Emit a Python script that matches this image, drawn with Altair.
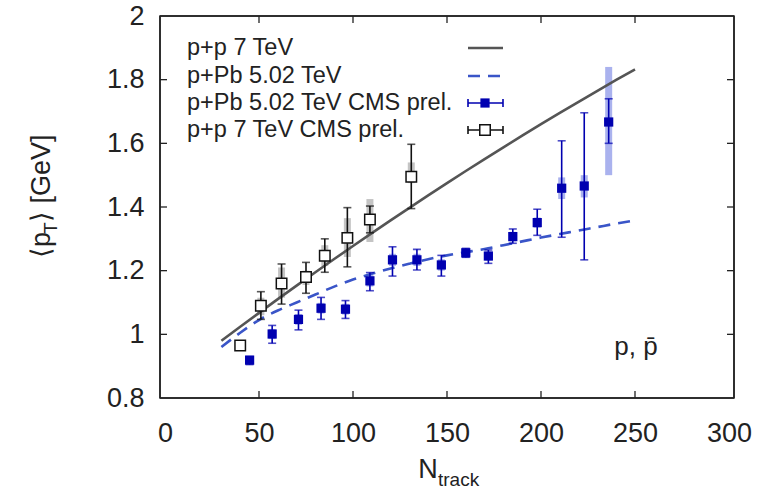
import altair as alt
import pandas as pd

# ---------------- data ----------------
# model curves
curve_n = [30, 40, 50, 60, 70, 80, 90, 100, 110, 120, 130, 140, 150, 160, 170, 180, 190, 200, 210, 220, 230, 240, 250]
pp7_curve = [0.980, 1.024, 1.0675, 1.1105, 1.153, 1.195, 1.2365, 1.2775, 1.318, 1.358, 1.3975, 1.4365, 1.475,
             1.513, 1.5505, 1.5875, 1.624, 1.660, 1.6955, 1.7305, 1.765, 1.799, 1.8325]
ppb_curve = [0.96, 1.005, 1.045, 1.075, 1.10, 1.125, 1.15, 1.172, 1.19, 1.207, 1.222, 1.236, 1.248, 1.258, 1.268,
             1.28, 1.292, 1.304, 1.315, 1.326, 1.337, 1.348, 1.358]

# p+p 7 TeV CMS prel.
pp_n = [40, 51, 62, 75, 85, 97, 109, 131]
pp_v = [0.965, 1.09, 1.16, 1.18, 1.247, 1.303, 1.361, 1.495]
pp_lo = [0.958, 1.047, 1.095, 1.129, 1.195, 1.212, 1.319, 1.395]
pp_hi = [0.972, 1.134, 1.221, 1.226, 1.30, 1.398, 1.403, 1.597]
pp_sys_lo = [0.96, 1.06, 1.115, 1.155, 1.215, 1.243, 1.29, 1.475]
pp_sys_hi = [0.97, 1.115, 1.21, 1.20, 1.28, 1.365, 1.425, 1.54]

# p+Pb 5.02 TeV CMS prel.
pb_n = [45, 57, 71, 83, 96, 109, 121, 134, 147, 160, 172, 185, 198, 211, 223, 236]
pb_v = [0.919, 1.001, 1.047, 1.082, 1.079, 1.168, 1.234, 1.234, 1.218, 1.256, 1.246, 1.307, 1.351, 1.459, 1.466, 1.667]
pb_lo = [0.905, 0.972, 1.014, 1.047, 1.05, 1.137, 1.183, 1.202, 1.183, 1.242, 1.223, 1.286, 1.311, 1.305, 1.234, 1.60]
pb_hi = [0.93, 1.028, 1.076, 1.116, 1.106, 1.194, 1.275, 1.267, 1.248, 1.27, 1.265, 1.331, 1.393, 1.608, 1.696, 1.74]
pb_sys_lo = [0.91, 0.985, 1.03, 1.065, 1.062, 1.15, 1.215, 1.215, 1.2, 1.245, 1.232, 1.292, 1.335, 1.425, 1.43, 1.50]
pb_sys_hi = [0.928, 1.017, 1.064, 1.099, 1.096, 1.186, 1.253, 1.253, 1.236, 1.267, 1.26, 1.322, 1.367, 1.493, 1.50, 1.84]

x_ticks = [0, 50, 100, 150, 200, 250, 300]
y_ticks = [0.8, 1.0, 1.2, 1.4, 1.6, 1.8, 2.0]
legend_labels = ["p+p 7 TeV", "p+Pb 5.02 TeV", "p+Pb 5.02 TeV CMS prel.", "p+p 7 TeV CMS prel."]

# ---------------- styling ----------------
W, H = 574, 382
FONT = "Liberation Sans"
TXT = "#222222"
BLUE = "#0000b0"
DASH_BLUE = "#3a55c8"
GREY_LINE = "#555555"

xs = alt.Scale(domain=[0, 300], nice=False, zero=False)
ys = alt.Scale(domain=[0.8, 2.0], nice=False, zero=False)
AX = alt.Axis(values=x_ticks, format="d", title=None, ticks=False, tickSize=0, domain=False, grid=False,
              labelFont=FONT, labelFontSize=27, labelColor=TXT, labelPadding=22)
AY = alt.Axis(values=y_ticks, format=".1~f", title=None, ticks=False, tickSize=0, domain=False, grid=False,
              labelFont=FONT, labelFontSize=27, labelColor=TXT, labelPadding=16)


def X(f):
    return alt.X(f"{f}:Q", scale=xs, axis=AX)


def Y(f):
    return alt.Y(f"{f}:Q", scale=ys, axis=AY)


curves = pd.DataFrame({"n": curve_n, "pp": pp7_curve, "pb": ppb_curve})
pp = pd.DataFrame({"n": pp_n, "v": pp_v, "lo": pp_lo, "hi": pp_hi, "slo": pp_sys_lo, "shi": pp_sys_hi})
pb = pd.DataFrame({"n": pb_n, "v": pb_v, "lo": pb_lo, "hi": pb_hi, "slo": pb_sys_lo, "shi": pb_sys_hi})
one = pd.DataFrame({"a": [0]})

layers = []

# systematic bands
layers.append(alt.Chart(pp).mark_bar(size=7, color="#c4c4c4").encode(x=X("n"), y=Y("slo"), y2="shi"))
layers.append(alt.Chart(pb).mark_bar(size=7, color="#aab2ee").encode(x=X("n"), y=Y("slo"), y2="shi"))

# curves
layers.append(alt.Chart(curves).mark_line(color=GREY_LINE, strokeWidth=2.6, interpolate="monotone")
              .encode(x=X("n"), y=Y("pp")))
layers.append(alt.Chart(curves).mark_line(color=DASH_BLUE, strokeWidth=2.6, strokeDash=[12, 8],
                                          interpolate="monotone")
              .encode(x=X("n"), y=Y("pb")))

# error bars
for df, col in [(pp, "#111111"), (pb, BLUE)]:
    layers.append(alt.Chart(df).mark_rule(color=col, strokeWidth=1.6).encode(x=X("n"), y=Y("lo"), y2="hi"))
    layers.append(alt.Chart(df).mark_tick(orient="horizontal", color=col, size=8, thickness=1.6)
                  .encode(x=X("n"), y=Y("lo")))
    layers.append(alt.Chart(df).mark_tick(orient="horizontal", color=col, size=8, thickness=1.6)
                  .encode(x=X("n"), y=Y("hi")))

# points
layers.append(alt.Chart(pb).mark_point(shape="square", filled=True, size=85, color=BLUE, opacity=1)
              .encode(x=X("n"), y=Y("v")))
layers.append(alt.Chart(pp).mark_point(shape="square", filled=True, size=110, color="white", opacity=1)
              .encode(x=X("n"), y=Y("v")))
layers.append(alt.Chart(pp).mark_point(shape="square", filled=False, size=110, color="#111111",
                                       strokeWidth=1.5, opacity=1)
              .encode(x=X("n"), y=Y("v")))

# frame
for enc in [dict(x=alt.value(0), x2=alt.value(W), y=alt.value(0)),
            dict(x=alt.value(0), x2=alt.value(W), y=alt.value(H)),
            dict(y=alt.value(0), y2=alt.value(H), x=alt.value(0)),
            dict(y=alt.value(0), y2=alt.value(H), x=alt.value(W))]:
    layers.append(alt.Chart(one).mark_rule(color=TXT, strokeWidth=1.5).encode(**enc))

# inward ticks (bottom/top/left/right)
xt = pd.DataFrame({"t": x_ticks[1:-1]})
yt = pd.DataFrame({"t": y_ticks[1:-1]})
layers.append(alt.Chart(xt).mark_rule(color=TXT, strokeWidth=1.3).encode(x=X("t"), y=alt.value(H), y2=alt.value(H - 7)))
layers.append(alt.Chart(xt).mark_rule(color=TXT, strokeWidth=1.3).encode(x=X("t"), y=alt.value(0), y2=alt.value(7)))
layers.append(alt.Chart(yt).mark_rule(color=TXT, strokeWidth=1.3).encode(y=Y("t"), x=alt.value(0), x2=alt.value(7)))
layers.append(alt.Chart(yt).mark_rule(color=TXT, strokeWidth=1.3).encode(y=Y("t"), x=alt.value(W), x2=alt.value(W - 7)))

# legend
leg_y = [32, 60, 87, 114]
for lab, yy in zip(legend_labels, leg_y):
    layers.append(alt.Chart(one).mark_text(font=FONT, fontSize=23.5, color=TXT, align="left", baseline="middle")
                  .encode(x=alt.value(27), y=alt.value(yy), text=alt.value(lab)))
LX1, LX2, LXC = 308, 343, 325
layers.append(alt.Chart(one).mark_rule(color=GREY_LINE, strokeWidth=2.6)
              .encode(x=alt.value(LX1), x2=alt.value(LX2), y=alt.value(leg_y[0])))
layers.append(alt.Chart(one).mark_rule(color=DASH_BLUE, strokeWidth=2.6, strokeDash=[12, 8])
              .encode(x=alt.value(LX1), x2=alt.value(LX2), y=alt.value(leg_y[1])))
for yy, col in [(leg_y[2], BLUE), (leg_y[3], "#111111")]:
    layers.append(alt.Chart(one).mark_rule(color=col, strokeWidth=1.6)
                  .encode(x=alt.value(LX1), x2=alt.value(LX2), y=alt.value(yy)))
    for xx in (LX1, LX2):
        layers.append(alt.Chart(one).mark_rule(color=col, strokeWidth=1.6)
                      .encode(x=alt.value(xx), y=alt.value(yy - 4), y2=alt.value(yy + 4)))
layers.append(alt.Chart(one).mark_point(shape="square", filled=True, size=85, color=BLUE, opacity=1)
              .encode(x=alt.value(LXC), y=alt.value(leg_y[2])))
layers.append(alt.Chart(one).mark_point(shape="square", filled=True, size=110, color="white", opacity=1)
              .encode(x=alt.value(LXC), y=alt.value(leg_y[3])))
layers.append(alt.Chart(one).mark_point(shape="square", filled=False, size=110, color="#111111",
                                        strokeWidth=1.5, opacity=1)
              .encode(x=alt.value(LXC), y=alt.value(leg_y[3])))

# annotation p, pbar
layers.append(alt.Chart(one).mark_text(font=FONT, fontSize=26, color=TXT, align="center", baseline="middle")
              .encode(x=alt.value(476), y=alt.value(331), text=alt.value("p, p\u0304")))

# x-axis title N_track
layers.append(alt.Chart(one).mark_text(font=FONT, fontSize=27, color=TXT, align="center", baseline="alphabetic")
              .encode(x=alt.value(268), y=alt.value(H + 80), text=alt.value("N")))
layers.append(alt.Chart(one).mark_text(font=FONT, fontSize=19, color=TXT, align="left", baseline="alphabetic")
              .encode(x=alt.value(278), y=alt.value(H + 88), text=alt.value("track")))

# y-axis title <p_T> [GeV]
layers.append(alt.Chart(one).mark_text(font=FONT, fontSize=27, color=TXT, align="left", baseline="alphabetic",
                                       angle=270)
              .encode(x=alt.value(-110), y=alt.value(242), text=alt.value("\u27e8p")))
layers.append(alt.Chart(one).mark_text(font=FONT, fontSize=19, color=TXT, align="left", baseline="alphabetic",
                                       angle=270)
              .encode(x=alt.value(-103), y=alt.value(218), text=alt.value("T")))
layers.append(alt.Chart(one).mark_text(font=FONT, fontSize=27, color=TXT, align="left", baseline="alphabetic",
                                       angle=270)
              .encode(x=alt.value(-110), y=alt.value(206), text=alt.value("\u27e9 [GeV]")))

chart = alt.layer(*layers).properties(
    width=W, height=H,
    autosize=alt.AutoSizeParams(type="none"),
    padding={"left": 160, "top": 16, "right": 33, "bottom": 96},
    background="white",
).configure_view(stroke=TXT, strokeWidth=1.5)

chart.save("out.html", embed_options={"renderer": "svg", "actions": False})
